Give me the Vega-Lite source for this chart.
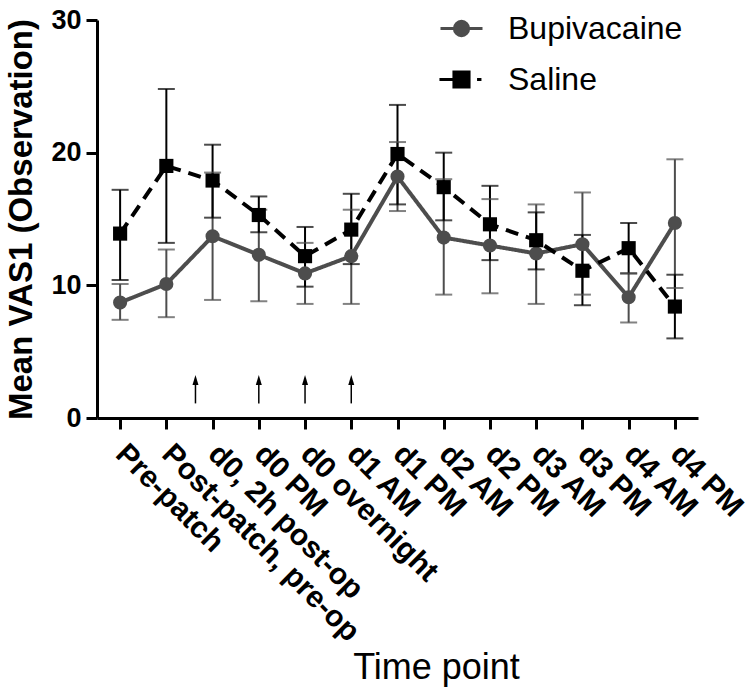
{
  "$schema": "https://vega.github.io/schema/vega-lite/v6.json",
  "width": 601,
  "height": 398,
  "padding": {"left": 5, "top": 6, "right": 5, "bottom": 2},
  "background": "white",
  "config": {
    "font": "Liberation Sans",
    "view": {"stroke": null},
    "axis": {
      "domainColor": "#000000",
      "domainWidth": 3,
      "tickColor": "#000000",
      "tickWidth": 3,
      "tickSize": 11,
      "labelColor": "#000000",
      "titleColor": "#000000",
      "grid": false,
      "labelFont": "Liberation Sans",
      "titleFont": "Liberation Sans"
    }
  },
  "datasets": {
    "vas": [
      {"i": 0, "time": "Pre-patch", "series": "Bupivacaine", "mean": 8.7, "lo": 7.4, "hi": 10.1},
      {"i": 1, "time": "Post-patch, pre-op", "series": "Bupivacaine", "mean": 10.1, "lo": 7.6, "hi": 12.7},
      {"i": 2, "time": "d0, 2h post-op", "series": "Bupivacaine", "mean": 13.7, "lo": 8.9, "hi": 18.5},
      {"i": 3, "time": "d0 PM", "series": "Bupivacaine", "mean": 12.3, "lo": 8.8, "hi": 15.7},
      {"i": 4, "time": "d0 overnight", "series": "Bupivacaine", "mean": 10.9, "lo": 8.6, "hi": 13.2},
      {"i": 5, "time": "d1 AM", "series": "Bupivacaine", "mean": 12.2, "lo": 8.6, "hi": 15.7},
      {"i": 6, "time": "d1 PM", "series": "Bupivacaine", "mean": 18.2, "lo": 15.6, "hi": 20.8},
      {"i": 7, "time": "d2 AM", "series": "Bupivacaine", "mean": 13.6, "lo": 9.3, "hi": 18.0},
      {"i": 8, "time": "d2 PM", "series": "Bupivacaine", "mean": 13.0, "lo": 9.4, "hi": 16.5},
      {"i": 9, "time": "d3 AM", "series": "Bupivacaine", "mean": 12.4, "lo": 8.6, "hi": 16.1},
      {"i": 10, "time": "d3 PM", "series": "Bupivacaine", "mean": 13.1, "lo": 9.3, "hi": 17.0},
      {"i": 11, "time": "d4 AM", "series": "Bupivacaine", "mean": 9.1, "lo": 7.2, "hi": 10.9},
      {"i": 12, "time": "d4 PM", "series": "Bupivacaine", "mean": 14.7, "lo": 9.8, "hi": 19.5},
      {"i": 0, "time": "Pre-patch", "series": "Saline", "mean": 13.9, "lo": 10.4, "hi": 17.2},
      {"i": 1, "time": "Post-patch, pre-op", "series": "Saline", "mean": 19.0, "lo": 13.2, "hi": 24.8},
      {"i": 2, "time": "d0, 2h post-op", "series": "Saline", "mean": 17.9, "lo": 15.1, "hi": 20.6},
      {"i": 3, "time": "d0 PM", "series": "Saline", "mean": 15.3, "lo": 14.0, "hi": 16.7},
      {"i": 4, "time": "d0 overnight", "series": "Saline", "mean": 12.2, "lo": 9.9, "hi": 14.4},
      {"i": 5, "time": "d1 AM", "series": "Saline", "mean": 14.2, "lo": 11.6, "hi": 16.9},
      {"i": 6, "time": "d1 PM", "series": "Saline", "mean": 19.9, "lo": 16.1, "hi": 23.6},
      {"i": 7, "time": "d2 AM", "series": "Saline", "mean": 17.4, "lo": 14.9, "hi": 20.0},
      {"i": 8, "time": "d2 PM", "series": "Saline", "mean": 14.6, "lo": 11.9, "hi": 17.5},
      {"i": 9, "time": "d3 AM", "series": "Saline", "mean": 13.4, "lo": 11.2, "hi": 15.5},
      {"i": 10, "time": "d3 PM", "series": "Saline", "mean": 11.1, "lo": 8.5, "hi": 13.8},
      {"i": 11, "time": "d4 AM", "series": "Saline", "mean": 12.8, "lo": 10.9, "hi": 14.7},
      {"i": 12, "time": "d4 PM", "series": "Saline", "mean": 8.4, "lo": 6.0, "hi": 10.8}
    ],
    "arrows": [
      {"i": 1.63, "lo": 1.1, "hi": 2.87},
      {"i": 3, "lo": 1.1, "hi": 2.87},
      {"i": 4, "lo": 1.1, "hi": 2.87},
      {"i": 5, "lo": 1.1, "hi": 2.87}
    ]
  },
  "layer": [
    {
      "data": {"name": "vas"},
      "mark": {"type": "rule", "strokeWidth": 2},
      "encoding": {
        "x": {
          "field": "i", "type": "quantitative",
          "scale": {"domain": [-0.5, 12.5], "nice": false, "zero": false},
          "axis": {
            "values": [0, 1, 2, 3, 4, 5, 6, 7, 8, 9, 10, 11, 12],
            "labelExpr": "['Pre-patch','Post-patch, pre-op','d0, 2h post-op','d0 PM','d0 overnight','d1 AM','d1 PM','d2 AM','d2 PM','d3 AM','d3 PM','d4 AM','d4 PM'][datum.value]",
            "labelAngle": 45,
            "labelAlign": "left",
            "labelBaseline": "middle",
            "labelFontSize": 30,
            "labelFontWeight": "bold",
            "labelPadding": 20,
            "labelLimit": 0,
            "labelOverlap": false,
            "labelFlush": false,
            "title": "Time point",
            "titleFontSize": 36,
            "titleFontWeight": "normal",
            "titleX": 339,
            "titlePadding": 32
          }
        },
        "y": {
          "field": "lo", "type": "quantitative",
          "scale": {"domain": [0, 30], "nice": false},
          "axis": {
            "values": [0, 10, 20, 30],
            "labelFontSize": 27,
            "labelFontWeight": "bold",
            "labelPadding": 5,
            "title": "Mean VAS1 (Observation)",
            "titleFontSize": 33,
            "titleFontWeight": "bold",
            "titlePadding": 12
          }
        },
        "y2": {"field": "hi"},
        "color": {
          "field": "series", "type": "nominal",
          "scale": {"domain": ["Bupivacaine", "Saline"], "range": ["#4d4d4d", "#000000"]},
          "legend": {
            "title": null,
            "orient": "none",
            "legendX": 342,
            "legendY": -14,
            "symbolSize": 1764,
            "symbolStrokeWidth": 3,
            "labelFontSize": 32,
            "labelFont": "Liberation Sans",
            "labelColor": "#000000",
            "labelLimit": 400,
            "labelOffset": 24,
            "rowPadding": 12,
            "encode": {
              "symbols": {
                "update": {
                  "shape": {"signal": "datum.value === 'Saline' ? 'M-1.05,0L-0.3,0M-0.36,-0.36L0.36,-0.36L0.36,0.36L-0.36,0.36ZM0.74,0L0.95,0' : 'M-1,0L1,0M-0.34,0A0.34,0.34 0 1,1 0.34,0A0.34,0.34 0 1,1 -0.34,0Z'"},
                  "fill": {"signal": "datum.value === 'Saline' ? '#000000' : '#4d4d4d'"},
                  "stroke": {"signal": "datum.value === 'Saline' ? '#000000' : '#4d4d4d'"},
                  "strokeWidth": {"value": 3},
                  "opacity": {"value": 1}
                }
              }
            }
          }
        }
      }
    },
    {
      "data": {"name": "vas"},
      "mark": {"type": "tick", "orient": "horizontal", "size": 17, "thickness": 2},
      "encoding": {
        "x": {"field": "i", "type": "quantitative"},
        "y": {"field": "lo", "type": "quantitative"},
        "color": {"field": "series", "type": "nominal"}
      }
    },
    {
      "data": {"name": "vas"},
      "mark": {"type": "tick", "orient": "horizontal", "size": 17, "thickness": 2},
      "encoding": {
        "x": {"field": "i", "type": "quantitative"},
        "y": {"field": "hi", "type": "quantitative"},
        "color": {"field": "series", "type": "nominal"}
      }
    },
    {
      "data": {"name": "vas"},
      "mark": {"type": "line", "strokeWidth": 4},
      "encoding": {
        "x": {"field": "i", "type": "quantitative"},
        "y": {"field": "mean", "type": "quantitative"},
        "color": {"field": "series", "type": "nominal"},
        "strokeDash": {
          "field": "series", "type": "nominal",
          "scale": {"domain": ["Saline", "Bupivacaine"], "range": [[13, 8], [1, 0]]},
          "legend": null
        }
      }
    },
    {
      "data": {"name": "vas"},
      "mark": {"type": "point", "filled": true, "opacity": 1, "size": 200},
      "encoding": {
        "x": {"field": "i", "type": "quantitative"},
        "y": {"field": "mean", "type": "quantitative"},
        "shape": {
          "field": "series", "type": "nominal",
          "scale": {"domain": ["Saline", "Bupivacaine"], "range": ["square", "circle"]},
          "legend": null
        },
        "color": {"field": "series", "type": "nominal"}
      }
    },
    {
      "data": {"name": "arrows"},
      "mark": {"type": "rule", "strokeWidth": 1.5, "color": "#000000"},
      "encoding": {
        "x": {"field": "i", "type": "quantitative"},
        "y": {"field": "lo", "type": "quantitative"},
        "y2": {"field": "hi"}
      }
    },
    {
      "data": {"name": "arrows"},
      "mark": {"type": "point", "shape": "M0,-1L0.6,1L-0.6,1Z", "filled": true, "size": 100, "color": "#000000", "opacity": 1},
      "encoding": {
        "x": {"field": "i", "type": "quantitative"},
        "y": {"field": "hi", "type": "quantitative"}
      }
    }
  ]
}
